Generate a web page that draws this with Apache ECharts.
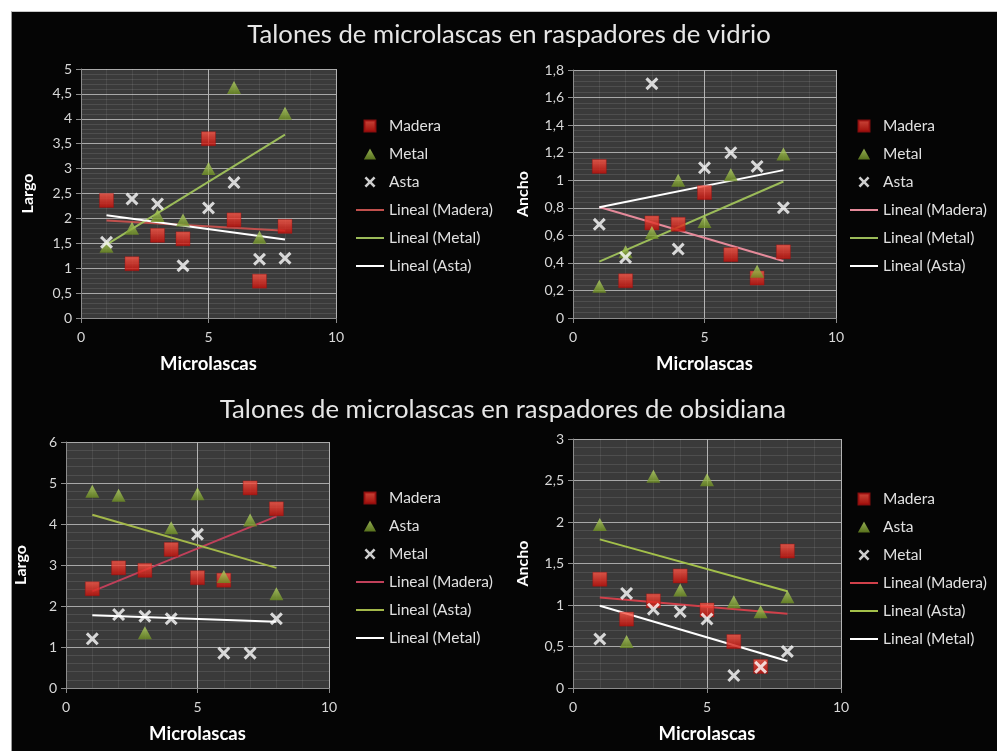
<!DOCTYPE html>
<html>
<head>
<meta charset="utf-8">
<script src="https://cdn.jsdelivr.net/npm/echarts@6/dist/echarts.min.js"></script>
<style>
html,body{margin:0;padding:0;background:#fff;width:997px;height:751px;overflow:hidden;}
#frame{position:absolute;left:11px;top:11px;width:986px;height:740px;background:#050505;border-left:1px solid #9a9a9a;border-top:1px solid #c8c8c8;}
#chart{position:absolute;left:0;top:0;width:997px;height:751px;}
</style>
</head>
<body>
<div id="frame"></div>
<div id="chart"></div>
<script>
// ---- Data ----
const titleTop = 'Talones de microlascas en raspadores de vidrio';
const titleBottom = 'Talones de microlascas en raspadores de obsidiana';
const xLabel = 'Microlascas';
const microlascas = [1, 2, 3, 4, 5, 6, 7, 8];

// Panel 1: vidrio - Largo
const vidrioLargoMadera = [2.36, 1.09, 1.66, 1.59, 3.60, 1.97, 0.74, 1.84];
const vidrioLargoMetal  = [1.44, 1.80, 2.06, 1.97, 3.00, 4.63, 1.62, 4.11];
const vidrioLargoAsta   = [1.52, 2.39, 2.29, 1.05, 2.21, 2.72, 1.18, 1.20];
// Panel 2: vidrio - Ancho
const vidrioAnchoMadera = [1.10, 0.27, 0.69, 0.68, 0.91, 0.46, 0.29, 0.48];
const vidrioAnchoMetal  = [0.23, 0.48, 0.62, 1.00, 0.70, 1.04, 0.34, 1.19];
const vidrioAnchoAsta   = [0.68, 0.44, 1.70, 0.50, 1.09, 1.20, 1.10, 0.80];
// Panel 3: obsidiana - Largo
const obsLargoMadera = [2.42, 2.93, 2.87, 3.38, 2.69, 2.63, 4.88, 4.37];
const obsLargoAsta   = [4.80, 4.70, 1.35, 3.91, 4.74, 2.72, 4.10, 2.30];
const obsLargoMetal  = [1.20, 1.79, 1.75, 1.69, 3.75, 0.85, 0.85, 1.69];
// Panel 4: obsidiana - Ancho
const obsAnchoMadera = [1.31, 0.83, 1.05, 1.35, 0.94, 0.56, 0.26, 1.65];
const obsAnchoAsta   = [1.97, 0.56, 2.55, 1.18, 2.51, 1.04, 0.92, 1.10];
const obsAnchoMetal  = [0.59, 1.14, 0.95, 0.92, 0.83, 0.15, 0.25, 0.44];

// Axis ranges (min, max, interval)
const yRanges = [[0, 5, 0.5], [0, 1.8, 0.2], [0, 6, 1], [0, 3, 0.5]];
const yNames = ['Largo', 'Ancho', 'Largo', 'Ancho'];

// ---- Helpers ----
function pairs(ys){ return microlascas.map((x,i)=>[x, ys[i]]); }
function trend(ys){
  const n = microlascas.length;
  const mx = microlascas.reduce((a,b)=>a+b,0)/n;
  const my = ys.reduce((a,b)=>a+b,0)/n;
  let sxy=0, sxx=0;
  for(let i=0;i<n;i++){ sxy+=(microlascas[i]-mx)*(ys[i]-my); sxx+=(microlascas[i]-mx)**2; }
  const b = sxy/sxx, a = my - b*mx;
  const x0 = Math.min(...microlascas), x1 = Math.max(...microlascas);
  return [[x0, a+b*x0],[x1, a+b*x1]];
}
const fmt = v => String(+v.toFixed(2)).replace('.', ',');

const FONT = 'Lato, "Open Sans", sans-serif';
const crossPath = 'path://M2,0 L6,4 L10,0 L12,2 L8,6 L12,10 L10,12 L6,8 L2,12 L0,10 L4,6 L0,2 Z';
const squarePath = 'path://M0,0 L10,0 L10,10 L0,10 Z';
const triPath = 'path://M5,0 L10,9 L0,9 Z';
const linePath = 'path://M0,0 L28,0 L28,2 L0,2 Z';
const redFill = new echarts.graphic.LinearGradient(0,0,0,1,[{offset:0,color:'#ff5a4a'},{offset:1,color:'#c40e08'}]);
const greenFill = new echarts.graphic.LinearGradient(0,0,0,1,[{offset:0,color:'#b9d968'},{offset:1,color:'#6d8d22'}]);

const SQ = {symbol:'rect', symbolSize:14, itemStyle:{color:redFill, borderColor:'#a01010', borderWidth:0.5}, legendIcon:squarePath};
const TRI = {symbol:'triangle', symbolSize:[14,13], itemStyle:{color:greenFill}, legendIcon:triPath};
const XX = {symbol:crossPath, symbolSize:13, itemStyle:{color:'#ffffff'}, legendIcon:crossPath};

const grids = [
  {left:81, top:69, width:255, height:249},
  {left:573, top:70, width:263, height:248},
  {left:66, top:442, width:263, height:246},
  {left:573, top:439, width:268, height:249}
];
const legendPos = [
  {left:356, top:118},
  {left:850, top:118},
  {left:356, top:490},
  {left:850, top:491}
];
const yNameGaps = [45, 42, 37, 42];

const panels = [
  {scatter:[['Madera',vidrioLargoMadera,SQ],['Metal',vidrioLargoMetal,TRI],['Asta',vidrioLargoAsta,XX]],
   trendColors:['#c0504d','#9bbb59','#ffffff']},
  {scatter:[['Madera',vidrioAnchoMadera,SQ],['Metal',vidrioAnchoMetal,TRI],['Asta',vidrioAnchoAsta,XX]],
   trendColors:['#e58a9a','#9bbb59','#ffffff']},
  {scatter:[['Madera',obsLargoMadera,SQ],['Asta',obsLargoAsta,TRI],['Metal',obsLargoMetal,XX]],
   trendColors:['#c0405a','#a3b84a','#ffffff']},
  {scatter:[['Madera',obsAnchoMadera,SQ],['Asta',obsAnchoAsta,TRI],['Metal',obsAnchoMetal,XX]],
   trendColors:['#d0404a','#a3c04a','#ffffff']}
];

const xAxes=[], yAxes=[], series=[], legends=[];
panels.forEach((p, i)=>{
  xAxes.push({
    gridIndex:i, type:'value', min:0, max:10, interval:5,
    name:xLabel, nameLocation:'middle', nameGap:37,
    nameTextStyle:{color:'#ffffff', fontWeight:'bold', fontSize:18.5, fontFamily:FONT},
    axisLine:{show:true, lineStyle:{color:'#8c8c8c'}},
    axisTick:{show:true, length:5, lineStyle:{color:'#8c8c8c'}},
    axisLabel:{color:'#d8d8d8', fontSize:14, fontFamily:FONT, margin:12},
    splitLine:{show:true, lineStyle:{color:'#b4b4b4', width:1}},
    minorTick:{show:false, splitNumber:5},
    minorSplitLine:{show:true, lineStyle:{color:'rgba(255,255,255,0.08)'}}
  });
  const r = yRanges[i];
  yAxes.push({
    gridIndex:i, type:'value', min:r[0], max:r[1], interval:r[2],
    name:yNames[i], nameLocation:'middle', nameRotate:90, nameGap: yNameGaps[i],
    nameTextStyle:{color:'#ffffff', fontWeight:'bold', fontSize:16, fontFamily:FONT},
    axisLine:{show:true, lineStyle:{color:'#8c8c8c'}},
    axisTick:{show:true, length:5, lineStyle:{color:'#8c8c8c'}},
    axisLabel:{color:'#d8d8d8', fontSize:14, fontFamily:FONT, margin:9, formatter:fmt},
    splitLine:{show:true, lineStyle:{color:'#a8a8a8', width:1}},
    minorTick:{show:false, splitNumber:5},
    minorSplitLine:{show:true, lineStyle:{color:'rgba(255,255,255,0.1)'}}
  });
  const items=[];
  p.scatter.forEach(([nm, ys, st])=>{
    const sname = nm + '#' + i;
    items.push({name:sname, icon:st.legendIcon});
    series.push({
      type:'scatter', name:sname, xAxisIndex:i, yAxisIndex:i, data:pairs(ys), z:3,
      symbol:st.symbol, symbolSize:st.symbolSize, itemStyle:st.itemStyle
    });
  });
  p.scatter.forEach(([nm, ys], k)=>{
    const sname = 'Lineal (' + nm + ')#' + i;
    items.push({name:sname, icon:linePath, itemStyle:{color:p.trendColors[k], borderWidth:0}});
    series.push({
      type:'line', name:sname, xAxisIndex:i, yAxisIndex:i, data:trend(ys),
      symbol:'none', z:2,
      lineStyle:{color:p.trendColors[k], width:2},
      itemStyle:{color:p.trendColors[k]}
    });
  });
  legends.push(Object.assign({
    orient:'vertical', data:items, itemWidth:28, itemHeight:11, itemGap:12, padding:0,
    symbolKeepAspect:true, itemTextGap:4,
    textStyle:{color:'#e0e0e0', fontSize:15.5, fontFamily:FONT, lineHeight:14},
    formatter: n => n.split('#')[0],
    selectedMode:false
  }, legendPos[i]));
});

const chart = echarts.init(document.getElementById('chart'), null, {renderer:'canvas'});
chart.setOption({
  backgroundColor:'transparent',
  animation:false,
  graphic:[
    {type:'text', x:509, y:35, style:{text:titleTop, fill:'#e6e6e6', font:'25.7px ' + FONT, textAlign:'center', textVerticalAlign:'middle'}},
    {type:'text', x:503, y:410, style:{text:titleBottom, fill:'#e6e6e6', font:'25.7px ' + FONT, textAlign:'center', textVerticalAlign:'middle'}}
  ],
  grid: grids.map(g=>Object.assign({show:true, backgroundColor:'#3a3a3a', borderWidth:0}, g)),
  xAxis:xAxes, yAxis:yAxes, legend:legends, series:series
});
</script>
</body>
</html>
